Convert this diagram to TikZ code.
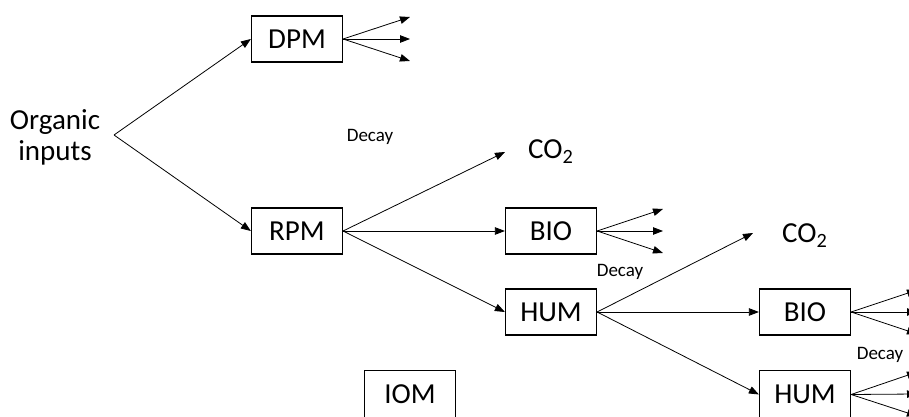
\documentclass[tikz,border=0pt]{standalone}
\usepackage{fontspec}
\setmainfont{Carlito}
\usetikzlibrary{arrows.meta}
\tikzset{
  pool/.style={draw, line width=1.2pt, minimum width=91pt, minimum height=46pt, inner sep=0pt, font=\fontsize{29}{31}\selectfont},
  big/.style={inner sep=0pt, font=\fontsize{29}{31}\selectfont},
  small/.style={inner sep=0pt, font=\fontsize{19}{22}\selectfont},
  flow/.style={line width=0.8pt, -{Triangle[length=10pt,width=7.5pt]}},
}
\begin{document}
\begin{tikzpicture}[x=1pt,y=1pt]
\clip (0,0) rectangle (909,417);
\fill[white] (0,0) rectangle (909,417);
% texts
\node[big, align=center, anchor=north] (org) at (55,308) {Organic\\inputs};
\coordinate (apex) at (114,282);
\node[small, anchor=base] (decay1) at (370,275) {Decay};
\node[small, anchor=base] (decay2) at (620,140) {Decay};
\node[small, anchor=base] (decay3) at (880,57) {Decay};
\node[big, anchor=base west] (co2a) at (528,258) {CO\textsubscript{2}};
\node[big, anchor=base west] (co2b) at (782,174) {CO\textsubscript{2}};
% pools
\node[pool] (dpm) at (297,378) {DPM};
\node[pool] (rpm) at (297,186) {RPM};
\node[pool] (bio1) at (551,186) {BIO};
\node[pool] (hum1) at (551,105) {HUM};
\node[pool] (bio2) at (805,105) {BIO};
\node[pool, minimum height=48pt] (hum2) at (805,22.5) {HUM};
\node[pool, minimum height=48pt] (iom) at (410,22.5) {IOM};
% free ends
\coordinate (d1) at (410,400);
\coordinate (d2) at (410,378);
\coordinate (d3) at (410,356);
\coordinate (ca) at (505,265);
\coordinate (b1) at (663,208);
\coordinate (b2) at (663,186);
\coordinate (b3) at (663,164);
\coordinate (cb) at (753,184);
\coordinate (e1) at (917,127);
\coordinate (e2) at (917,105);
\coordinate (e3) at (917,83);
\coordinate (f1) at (917,45);
\coordinate (f2) at (917,23);
\coordinate (f3) at (917,1);
% connectors
\draw[flow] (apex) -- (dpm.west);
\draw[flow] (apex) -- (rpm.west);
\draw[flow] (dpm.east) -- (d1);
\draw[flow] (dpm.east) -- (d2);
\draw[flow] (dpm.east) -- (d3);
\draw[flow] (rpm.east) -- (ca);
\draw[flow] (rpm.east) -- (bio1.west);
\draw[flow] (rpm.east) -- (hum1.west);
\draw[flow] (bio1.east) -- (b1);
\draw[flow] (bio1.east) -- (b2);
\draw[flow] (bio1.east) -- (b3);
\draw[flow] (hum1.east) -- (cb);
\draw[flow] (hum1.east) -- (bio2.west);
\draw[flow] (hum1.east) -- (hum2.west);
\draw[flow] (bio2.east) -- (e1);
\draw[flow] (bio2.east) -- (e2);
\draw[flow] (bio2.east) -- (e3);
\draw[flow] (hum2.east) -- (f1);
\draw[flow] (hum2.east) -- (f2);
\draw[flow] (hum2.east) -- (f3);
\end{tikzpicture}
\end{document}
